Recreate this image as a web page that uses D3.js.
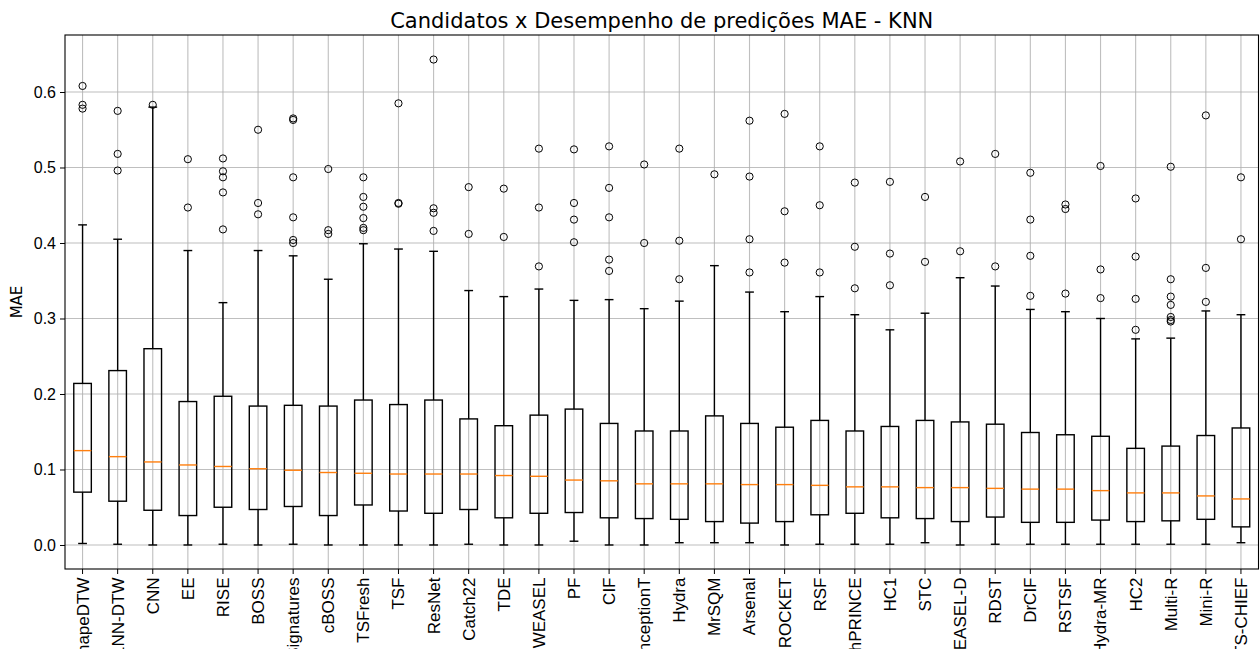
<!DOCTYPE html>
<html>
<head>
<meta charset="utf-8">
<script src="https://cdn.jsdelivr.net/npm/d3@7"></script>
<style>
    body { margin: 0; background: #fff; }
    svg { font-family: "DejaVu Sans", sans-serif; }
</style>
</head>
<body>
<svg id="boxplot" width="1260" height="649"></svg>
<script>
// --------------------------
// DATA
// --------------------------
const categories = ["ShapeDTW", "1NN-DTW", "CNN", "EE", "RISE", "BOSS", "Signatures", "cBOSS", "TSFresh", "TSF",
    "ResNet", "Catch22", "TDE", "WEASEL", "PF", "CIF", "InceptionT", "Hydra", "MrSQM", "Arsenal",
    "ROCKET", "RSF", "FreshPRINCE", "HC1", "STC", "WEASEL-D", "RDST", "DrCIF", "RSTSF", "Hydra-MR",
    "HC2", "Multi-R", "Mini-R", "TS-CHIEF"];

const medians = [0.125, 0.117, 0.110, 0.106, 0.104, 0.101, 0.099, 0.096, 0.095, 0.094,
    0.094, 0.094, 0.092, 0.091, 0.086, 0.085, 0.081, 0.081, 0.081, 0.080,
    0.080, 0.079, 0.077, 0.077, 0.076, 0.076, 0.075, 0.074, 0.074, 0.072,
    0.069, 0.069, 0.065, 0.061];

const q1 = [0.070, 0.058, 0.046, 0.039, 0.050, 0.047, 0.051, 0.039, 0.053, 0.045,
    0.042, 0.047, 0.036, 0.042, 0.043, 0.036, 0.035, 0.034, 0.031, 0.029,
    0.031, 0.040, 0.042, 0.036, 0.035, 0.031, 0.037, 0.030, 0.030, 0.033,
    0.031, 0.032, 0.034, 0.024];

const q3 = [0.214, 0.231, 0.260, 0.190, 0.197, 0.184, 0.185, 0.184, 0.192, 0.186,
    0.192, 0.167, 0.158, 0.172, 0.180, 0.161, 0.151, 0.151, 0.171, 0.161,
    0.156, 0.165, 0.151, 0.157, 0.165, 0.163, 0.160, 0.149, 0.146, 0.144,
    0.128, 0.131, 0.145, 0.155];

const whiskerLow = [0.002, 0.001, 0.000, 0.000, 0.001, 0.000, 0.001, 0.000, 0.000, 0.000,
    0.000, 0.001, 0.000, 0.000, 0.005, 0.000, 0.000, 0.003, 0.003, 0.003,
    0.000, 0.001, 0.001, 0.001, 0.003, 0.000, 0.001, 0.001, 0.001, 0.001,
    0.001, 0.001, 0.001, 0.003];

const whiskerHigh = [0.424, 0.405, 0.580, 0.390, 0.321, 0.390, 0.383, 0.352, 0.399, 0.392,
    0.389, 0.337, 0.329, 0.339, 0.324, 0.325, 0.313, 0.323, 0.370, 0.335,
    0.309, 0.329, 0.305, 0.285, 0.307, 0.354, 0.343, 0.312, 0.309, 0.300,
    0.273, 0.274, 0.310, 0.305];

const outliers = [
    [0.608, 0.583, 0.578],
    [0.575, 0.518, 0.496],
    [0.583],
    [0.511, 0.447],
    [0.512, 0.495, 0.487, 0.467, 0.418],
    [0.550, 0.453, 0.438],
    [0.565, 0.563, 0.487, 0.434, 0.404, 0.400],
    [0.498, 0.417, 0.412],
    [0.487, 0.461, 0.448, 0.433, 0.420, 0.417],
    [0.585, 0.453, 0.452],
    [0.643, 0.446, 0.440, 0.416],
    [0.474, 0.412],
    [0.472, 0.408],
    [0.525, 0.447, 0.369],
    [0.524, 0.453, 0.431, 0.401],
    [0.528, 0.473, 0.434, 0.378, 0.363],
    [0.504, 0.400],
    [0.525, 0.403, 0.352],
    [0.491],
    [0.562, 0.488, 0.405, 0.361],
    [0.571, 0.442, 0.374],
    [0.528, 0.450, 0.361],
    [0.480, 0.395, 0.340],
    [0.481, 0.386, 0.344],
    [0.461, 0.375],
    [0.508, 0.389],
    [0.518, 0.369],
    [0.493, 0.431, 0.383, 0.330],
    [0.451, 0.445, 0.333],
    [0.502, 0.365, 0.327],
    [0.459, 0.382, 0.326, 0.285],
    [0.501, 0.352, 0.329, 0.318, 0.302, 0.298, 0.296],
    [0.569, 0.367, 0.322],
    [0.487, 0.405]
];

const yTicks = [0.0, 0.1, 0.2, 0.3, 0.4, 0.5, 0.6];

const data = categories.map((name, i) => ({
    name,
    median: medians[i],
    q1: q1[i],
    q3: q3[i],
    low: whiskerLow[i],
    high: whiskerHigh[i],
    fliers: outliers[i]
}));

// --------------------------
// BOXPLOT
// --------------------------
function drawBoxplot(data) {
    const svg = d3.select("#boxplot");
    svg.selectAll("*").remove();

    const margin = { top: 35, right: 1.5, bottom: 80, left: 65 };
    const width = +svg.attr("width");
    const plotBottom = 569;

    const x = d3.scaleBand()
        .domain(categories)
        .range([margin.left, width - margin.right])
        .paddingInner(0)
        .paddingOuter(0);

    const y = d3.scaleLinear()
        .domain([-0.0318, 0.6755])
        .range([plotBottom, margin.top]);

    const cx = d => x(d.name) + x.bandwidth() / 2;
    const boxW = x.bandwidth() * 0.5;
    const capW = boxW * 0.5;

    // Grid
    const grid = svg.append("g");
    grid.selectAll(".hgrid")
        .data(yTicks)
        .enter().append("line")
        .attr("x1", margin.left).attr("x2", width - margin.right)
        .attr("y1", d => y(d)).attr("y2", d => y(d))
        .attr("stroke", "#b0b0b0")
        .attr("stroke-width", 1.1)
        .attr("opacity", 0.8);
    grid.selectAll(".vgrid")
        .data(data)
        .enter().append("line")
        .attr("x1", cx).attr("x2", cx)
        .attr("y1", margin.top).attr("y2", plotBottom)
        .attr("stroke", "#b0b0b0")
        .attr("stroke-width", 1.1)
        .attr("opacity", 0.8);

    const box = svg.append("g")
        .selectAll("g")
        .data(data)
        .enter().append("g");

    // Whiskers
    box.append("line")
        .attr("x1", cx).attr("x2", cx)
        .attr("y1", d => y(d.q3)).attr("y2", d => y(d.high))
        .attr("stroke", "#000").attr("stroke-width", 1.4);
    box.append("line")
        .attr("x1", cx).attr("x2", cx)
        .attr("y1", d => y(d.q1)).attr("y2", d => y(d.low))
        .attr("stroke", "#000").attr("stroke-width", 1.4);

    // Caps
    box.append("line")
        .attr("x1", d => cx(d) - capW / 2).attr("x2", d => cx(d) + capW / 2)
        .attr("y1", d => y(d.high)).attr("y2", d => y(d.high))
        .attr("stroke", "#000").attr("stroke-width", 1.4);
    box.append("line")
        .attr("x1", d => cx(d) - capW / 2).attr("x2", d => cx(d) + capW / 2)
        .attr("y1", d => y(d.low)).attr("y2", d => y(d.low))
        .attr("stroke", "#000").attr("stroke-width", 1.4);

    // Boxes
    box.append("rect")
        .attr("x", d => cx(d) - boxW / 2)
        .attr("y", d => y(d.q3))
        .attr("width", boxW)
        .attr("height", d => y(d.q1) - y(d.q3))
        .attr("fill", "none")
        .attr("stroke", "#000")
        .attr("stroke-width", 1.4);

    // Medians
    box.append("line")
        .attr("x1", d => cx(d) - boxW / 2).attr("x2", d => cx(d) + boxW / 2)
        .attr("y1", d => y(d.median)).attr("y2", d => y(d.median))
        .attr("stroke", "#ff7f0e").attr("stroke-width", 1.4);

    // Outliers
    box.selectAll("circle")
        .data(d => d.fliers.map(v => ({ name: d.name, v })))
        .enter().append("circle")
        .attr("cx", cx)
        .attr("cy", d => y(d.v))
        .attr("r", 3.6)
        .attr("fill", "none")
        .attr("stroke", "#000")
        .attr("stroke-width", 1);

    // Frame
    svg.append("rect")
        .attr("x", margin.left).attr("y", margin.top)
        .attr("width", width - margin.right - margin.left)
        .attr("height", plotBottom - margin.top)
        .attr("fill", "none")
        .attr("stroke", "#000")
        .attr("stroke-width", 1.1);

    // Axes
    const yAxis = svg.append("g")
        .attr("transform", `translate(${margin.left},0)`)
        .call(d3.axisLeft(y).tickValues(yTicks).tickFormat(d3.format(".1f")).tickSize(5).tickPadding(4));
    yAxis.select(".domain").remove();
    yAxis.selectAll("text").attr("font-size", 16).attr("fill", "#000");

    // x labels run past the bottom edge, as in the original figure
    const xAxis = svg.append("g")
        .attr("transform", `translate(0,${plotBottom})`)
        .call(d3.axisBottom(x).tickSize(5));
    xAxis.select(".domain").remove();
    xAxis.selectAll("text")
        .attr("font-size", 17)
        .attr("fill", "#000")
        .attr("transform", "rotate(-90)")
        .attr("x", -8.5)
        .attr("y", 0)
        .attr("dy", "0.35em")
        .attr("text-anchor", "end");

    // Labels
    svg.append("text")
        .attr("transform", "rotate(-90)")
        .attr("x", -(margin.top + plotBottom) / 2)
        .attr("y", 22)
        .attr("text-anchor", "middle")
        .attr("font-size", 15)
        .text("MAE");

    svg.append("text")
        .attr("x", (margin.left + width - margin.right) / 2)
        .attr("y", 28)
        .attr("text-anchor", "middle")
        .attr("font-size", 21)
        .text("Candidatos x Desempenho de predições MAE - KNN");
}

drawBoxplot(data);
</script>
</body>
</html>
